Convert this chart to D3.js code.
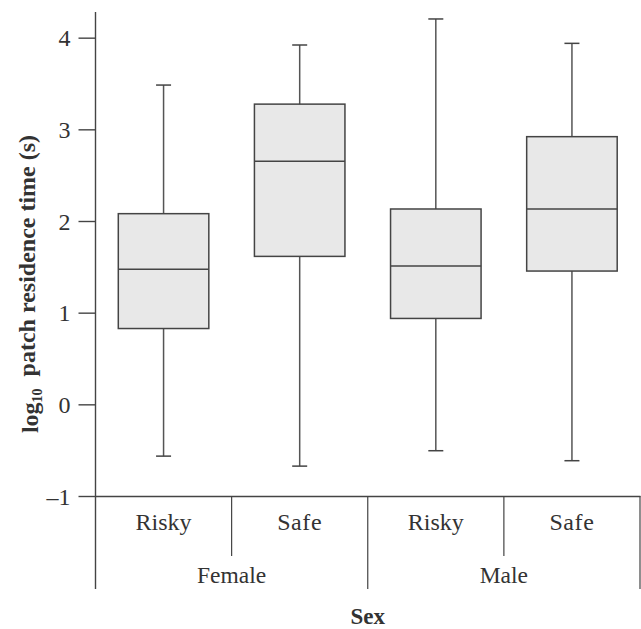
<!DOCTYPE html>
<html>
<head>
<meta charset="utf-8">
<script src="https://cdn.jsdelivr.net/npm/d3@7"></script>
<style>
  body { margin: 0; background: #fff; }
  svg text { font-family: "Liberation Serif", "Times New Roman", serif; fill: #333; }
</style>
</head>
<body>
<svg id="chart" width="641" height="629"></svg>
<script>
// values
const groups = ['F-Risky', 'F-Safe', 'M-Risky', 'M-Safe']
const habitats = ['Risky', 'Safe', 'Risky', 'Safe']
const sexes = ['Female', 'Male']
const whiskerLow = [-0.565, -0.674, -0.506, -0.615]
const q1 = [0.827, 1.614, 0.937, 1.454]
const median = [1.475, 2.652, 1.508, 2.131]
const q3 = [2.08, 3.275, 2.131, 2.92]
const whiskerHigh = [3.483, 3.92, 4.204, 3.938]
const yTicks = [-1, 0, 1, 2, 3, 4]

const SVG = d3.select('#chart')
const Margin = { top: 12, left: 95.5, right: 640, bottom: 496 }
const stroke = '#444'

const yscale = d3.scaleLinear()
    .domain([-1, 4.28])
    .range([Margin.bottom, Margin.top])

const xscale = d3.scaleBand()
    .domain(groups)
    .range([Margin.left, Margin.right])
    .padding(0)

// y axis
const left = d3.axisLeft(yscale)
    .tickValues(yTicks)
    .tickSizeInner(17)
    .tickSizeOuter(0)
    .tickPadding(8)
    .tickFormat(d => d < 0 ? '\u2013' + Math.abs(d) : d)

const gy = SVG.append('g')
    .attr('transform', `translate(${Margin.left}, 0)`)
    .call(left)
gy.select('.domain').remove()
gy.selectAll('line').attr('stroke', stroke).attr('stroke-width', 1.4)
gy.selectAll('text')
    .style('font-size', '24px')
    .attr('dy', '0.34em')
    .style('font-family', '"Liberation Serif", serif')
    .attr('fill', '#333')

SVG.append('line')
    .attr('x1', Margin.left).attr('x2', Margin.left)
    .attr('y1', yscale.range()[1]).attr('y2', 589)
    .attr('stroke', stroke).attr('stroke-width', 1.4)

// x axis: baseline plus nested category dividers
const bottom = d3.axisBottom(xscale).tickSize(0).tickFormat('')
const gx = SVG.append('g')
    .attr('transform', `translate(0, ${Margin.bottom})`)
    .call(bottom)
gx.select('.domain').attr('stroke', stroke).attr('stroke-width', 1.4)

groups.forEach((g, i) => {
    if (i == 0) return
    let x = xscale(g)
    let long = i % 2 == 0
    SVG.append('line')
        .attr('x1', x).attr('x2', x)
        .attr('y1', Margin.bottom).attr('y2', long ? 589 : 556)
        .attr('stroke', stroke).attr('stroke-width', 1.2)
})
SVG.append('line')
    .attr('x1', Margin.right).attr('x2', Margin.right)
    .attr('y1', Margin.bottom).attr('y2', 589)
    .attr('stroke', stroke).attr('stroke-width', 1.2)

groups.forEach((g, i) => {
    SVG.append('text')
        .text(habitats[i])
        .attr('x', xscale(g) + xscale.bandwidth() / 2)
        .attr('y', 530)
        .attr('text-anchor', 'middle')
        .style('font-size', '24px')
        .style('letter-spacing', habitats[i] == 'Safe' ? '0.6px' : '0px')
})

sexes.forEach((s, j) => {
    let x0 = xscale(groups[j * 2])
    let x1 = xscale(groups[j * 2 + 1]) + xscale.bandwidth()
    SVG.append('text')
        .text(s)
        .attr('x', (x0 + x1) / 2)
        .attr('y', 583)
        .attr('text-anchor', 'middle')
        .style('font-size', '23.5px')
})

SVG.append('text')
    .text('Sex')
    .attr('x', (Margin.left + Margin.right) / 2)
    .attr('y', 624)
    .attr('text-anchor', 'middle')
    .style('font-size', '23px')
    .style('font-weight', 'bold')

// y title
const yt = SVG.append('text')
    .attr('transform', `translate(38, 284) rotate(-90)`)
    .attr('text-anchor', 'middle')
    .style('font-size', '24px')
    .style('font-weight', 'bold')
yt.append('tspan').text('log')
yt.append('tspan').text('10').attr('dy', '0.3em').style('font-size', '14px')
yt.append('tspan').text('\u00a0\u00a0patch residence time (s)').attr('dy', '-0.3em')

// boxes
const boxW = xscale.bandwidth() * 0.665
const capW = 15
groups.forEach((g, i) => {
    let cx = xscale(g) + xscale.bandwidth() / 2
    let Block = SVG.append('g')

    Block.append('line')
        .attr('x1', cx).attr('x2', cx)
        .attr('y1', yscale(whiskerHigh[i])).attr('y2', yscale(whiskerLow[i]))
        .attr('stroke', '#555').attr('stroke-width', 1.5)
    ;[whiskerHigh[i], whiskerLow[i]].forEach(v => {
        Block.append('line')
            .attr('x1', cx - capW / 2).attr('x2', cx + capW / 2)
            .attr('y1', yscale(v)).attr('y2', yscale(v))
            .attr('stroke', '#444').attr('stroke-width', 1.5)
    })
    Block.append('rect')
        .attr('x', cx - boxW / 2)
        .attr('y', yscale(q3[i]))
        .attr('width', boxW)
        .attr('height', yscale(q1[i]) - yscale(q3[i]))
        .attr('fill', '#e8e8e8')
        .attr('stroke', '#444')
        .attr('stroke-width', 1.5)
    Block.append('line')
        .attr('x1', cx - boxW / 2).attr('x2', cx + boxW / 2)
        .attr('y1', yscale(median[i])).attr('y2', yscale(median[i]))
        .attr('stroke', '#444').attr('stroke-width', 1.5)
})
</script>
</body>
</html>
